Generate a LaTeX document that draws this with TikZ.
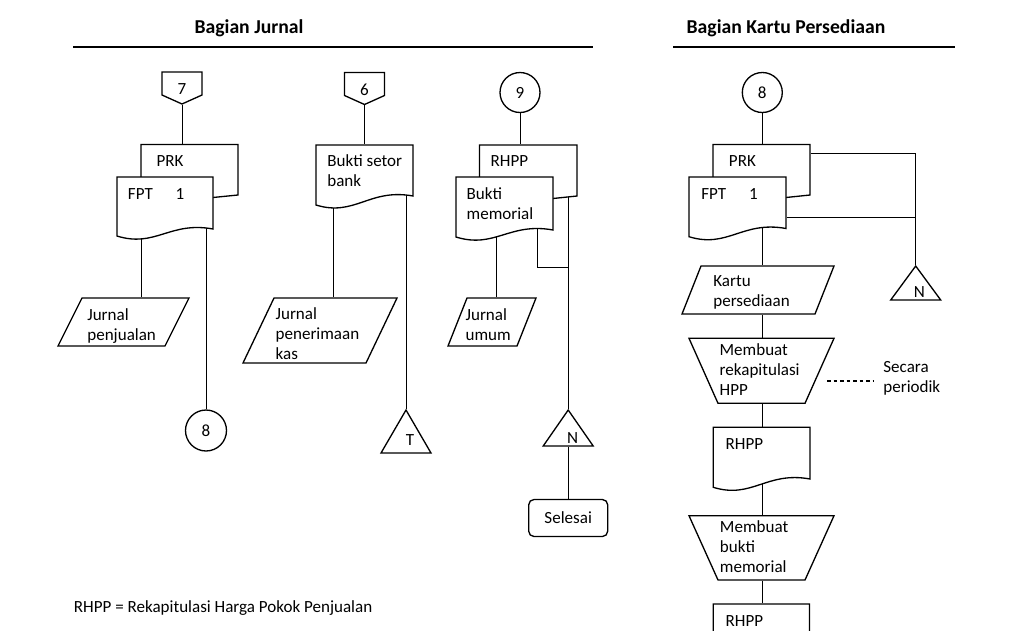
\documentclass[tikz,border=0pt]{standalone}
\usepackage{fontspec}
\setmainfont{Carlito}
\usetikzlibrary{calc,fit,backgrounds}
% document: name, left, top, right, bottom right, bottom left
\def\docsym(#1)(#2,#3,#4,#5,#6){\draw[fill=white] (#2,#3) -- (#4,#3) -- (#4,#5) .. controls ({#2+0.55*(#4-#2)},{#5-8}) and ({#2+0.4*(#4-#2)},{#6+12}) .. (#2,#6) -- cycle;
\node[inner sep=0pt, fit={(#2,#3) (#4,#5)}] (#1) {};}
% copy behind: name, left, top, right, bottom right, front right, front top
\def\backsym(#1)(#2,#3,#4,#5,#6,#7){\draw (#2,#7) -- (#2,#3) -- (#4,#3) -- (#4,#5) -- (#6,{#5+2.5});
\node[inner sep=0pt, fit={(#2,#3) (#4,#5)}] (#1) {};}
% off-page connector: name, centre x, top
\def\offpage(#1)(#2,#3)#4{\draw[fill=white] ({#2-20},#3) -- ({#2+20},#3) -- ({#2+20},{#3+23}) -- (#2,{#3+32}) -- ({#2-20},{#3+23}) -- cycle;
\node[inner sep=0pt, fit={({#2-20},#3) ({#2+20},{#3+32})}] (#1) {};
\node (#1-t) at (#2,{#3+17.5}) {#4};}
% journal / card: name, top left, top right, top, bottom, skew
\def\iosym(#1)(#2,#3,#4,#5,#6){\draw[fill=white] (#2,#4) -- (#3,#4) -- ({#3-#6},#5) -- ({#2-#6},#5) -- cycle;
\node[inner sep=0pt, fit={(#2,#4) ({#3-#6},#5)}] (#1) {};}
% manual operation: name, left, right, top, bottom, inset
\def\mansym(#1)(#2,#3,#4,#5,#6){\draw[fill=white] (#2,#4) -- (#3,#4) -- ({#3-#6},#5) -- ({#2+#6},#5) -- cycle;
\node[inner sep=0pt, fit={(#2,#4) (#3,#5)}] (#1) {};}
% file triangle: name, apex x, apex y, base y
\def\trisym(#1)(#2,#3,#4){\draw[fill=white] (#2,#3) -- ({#2+25},#4) -- ({#2-25},#4) -- cycle;
\node[inner sep=0pt, fit={(#2,#3) (#2,#4)}] (#1) {};}
\begin{document}
\begin{tikzpicture}[x=0.02cm, y=-0.02cm, line width=0.75pt,
  every node/.style={font=\fontsize{9.7}{11.4}\selectfont},
  lbl/.style={anchor=base west, inner sep=0pt, align=left},
  head/.style={anchor=base, font=\fontsize{11.2}{13}\selectfont\bfseries},
  conn/.style={draw, circle, inner sep=0pt, minimum size=0.8cm, fill=white}]
	\useasboundingbox (0,0) rectangle (1024,630);
	
	%%%%% HEADER %%%%%
	\node[head] (hj) at (249,33) {Bagian Jurnal};
	\node[head] (hk) at (786,33) {Bagian Kartu Persediaan};
	\draw[line width=1.4pt] (73,47) -- (593,47);
	\draw[line width=1.4pt] (673,47) -- (955,47);
	
	%%%%% JURNAL PENJUALAN %%%%%
	% (text nodes sit on the baseline of their last line)
	\offpage(p7)(182,72){7}
	\backsym(prk1)(141,144.5,238,195,213,177)
	\docsym(fpt1)(117,177,213,229,236)
	\node[lbl] (prk1-t) at (156,166.7) {PRK};
	\node[lbl] (fpt1-t) at (127.3,199.3) {FPT\hspace{13pt}1};
	\iosym(jp)(82,189,298,346,24)
	\node[lbl] (jp-t) at (86.7,340.5) {Jurnal\\penjualan};
	\node[conn, minimum size=0.82cm] (c8a) at (206,430.5) {8};
	
	%%%%% JURNAL PENERIMAAN KAS %%%%%
	\offpage(p6)(364.5,72.5){6}
	\docsym(bsb)(316,145,413,196,205)
	\node[lbl] (bsb-t) at (326.7,186.8) {Bukti setor\\bank};
	\iosym(jpk)(274,397,298,363,31)
	\node[lbl] (jpk-t) at (275,359.5) {Jurnal\\penerimaan\\kas};
	\trisym(tT)(406,410,453)
	\node[anchor=base] (tT-t) at (410,445) {T};
	
	%%%%% JURNAL UMUM %%%%%
	\node[conn] (c9) at (520,92.5) {9};
	\backsym(rhpp1)(479.5,145,577,196,553,177)
	\docsym(bm)(456,177,553,230,237)
	\node[lbl] (rhpp1-t) at (490,166.7) {RHPP};
	\node[lbl] (bm-t) at (466,219.4) {Bukti\\memorial};
	\iosym(ju)(467,536,298,346,19)
	\node[lbl] (ju-t) at (465,340.5) {Jurnal\\umum};
	\trisym(tN1)(568.2,410,446)
	\node[anchor=base] (tN1-t) at (572.7,443) {N};
	\node[draw, rounded corners=3pt, minimum width=1.58cm, minimum height=0.74cm] (sel) at (568.2,518) {Selesai};
	
	%%%%% KARTU PERSEDIAAN %%%%%
	\node[conn] (c8b) at (762.3,92.5) {8};
	\backsym(prk2)(713,144.5,810,195,786,177)
	\docsym(fpt2)(689,177,786,228.5,236.7)
	\node[lbl] (prk2-t) at (728.3,166.7) {PRK};
	\node[lbl] (fpt2-t) at (700.7,199.3) {FPT\hspace{13pt}1};
	\trisym(tN2)(915.7,266,300)
	\node[anchor=base] (tN2-t) at (919.3,297) {N};
	\iosym(ks)(701,834,266,314,19)
	\node[lbl] (ks-t) at (712.7,306.5) {Kartu\\persediaan};
	\mansym(mr)(689,834,338.3,403.3,29)
	\node[lbl] (mr-t) at (719,395.5) {Membuat\\rekapitulasi\\HPP};
	\node[lbl] (per-t) at (882.7,392.7) {Secara\\periodik};
	\docsym(rh2)(713.3,427.3,810,479,487.3)
	\node[lbl] (rh2-t) at (725,449) {RHPP};
	\mansym(mb)(689,834,515.7,580,29)
	\node[lbl] (mb-t) at (719.3,572.5) {Membuat\\bukti\\memorial};
	\docsym(rh3)(713.3,604,809.5,656,664)
	\node[lbl] (rh3-t) at (725,626) {RHPP};
	
	\node[lbl] (note) at (73.3,612.7) {RHPP = Rekapitulasi Harga Pokok Penjualan};
	
	%%%%% CONNECTORS %%%%%
	\begin{scope}[on background layer]
		\draw (p7) -- (p7 |- prk1.north);
		\draw (141,0 |- fpt1.center) -- (141,0 |- jp.north);
		\draw (206,0 |- fpt1.center) -- (c8a);
		
		\draw (p6) -- (p6 |- bsb.north);
		\draw (333,0 |- bsb.center) -- (333,0 |- jpk.north);
		\draw (tT.north |- bsb.center) -- (tT.north);
		
		\draw (c9) -- (c9 |- rhpp1.north);
		\draw (496,0 |- bm.center) -- (496,0 |- ju.north);
		\coordinate (j3) at (568.2,267);
		\draw (537,0 |- bm.center) |- (j3);
		\draw (tN1.north |- rhpp1.south) -- (tN1.north);
		\draw (tN1.south) -- (sel);
		
		\draw (c8b) -- (c8b |- prk2.north);
		\draw (prk2.east |- 0,153.3) -| (tN2.north);
		\draw (fpt2.east |- 0,217.7) -- (tN2.north |- 0,217.7);
		\draw (c8b |- fpt2.center) -- (c8b |- ks.north);
		\draw (c8b |- ks.south) -- (c8b |- mr.north);
		\draw (c8b |- mr.south) -- (c8b |- rh2.north);
		\draw (c8b |- rh2.center) -- (c8b |- mb.north);
		\draw (c8b |- mb.south) -- (c8b |- rh3.north);
	\end{scope}
	\draw[dash pattern=on 2pt off 1.7pt] (827,381) -- (873,381);
\end{tikzpicture}
\end{document}
